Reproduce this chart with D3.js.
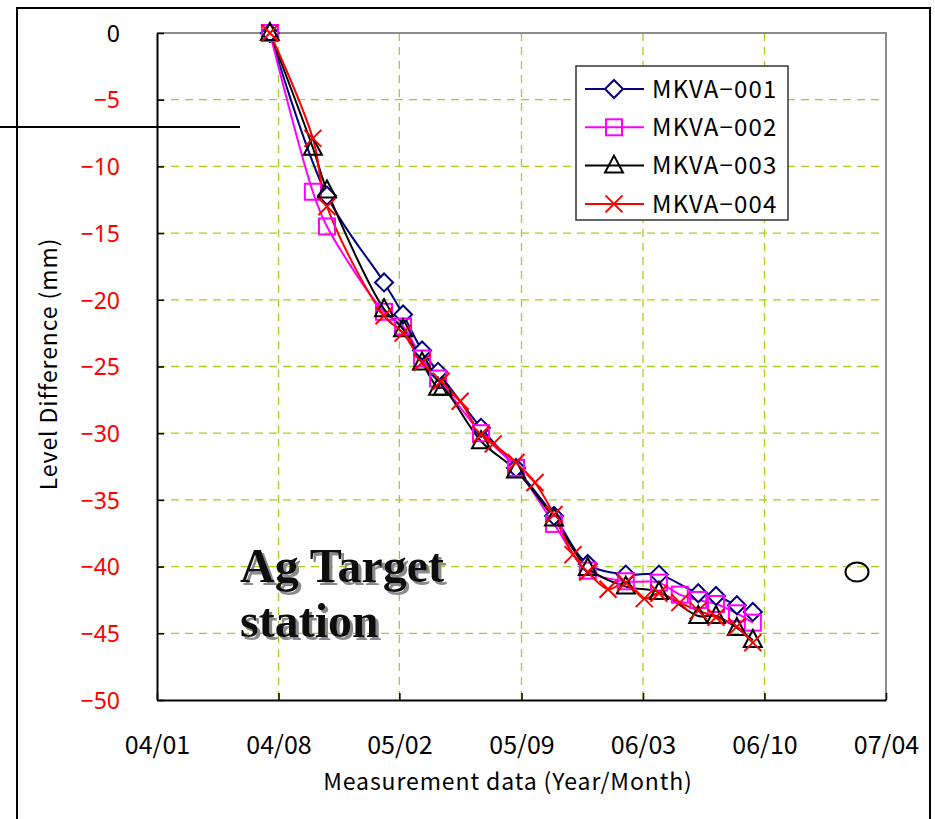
<!DOCTYPE html>
<html>
<head>
<meta charset="utf-8">
<script src="https://cdn.jsdelivr.net/npm/d3@7"></script>
<style>
  html, body { margin: 0; padding: 0; background: #fff; }
  svg { display: block; }
  .tick-y { font-family: "Noto Sans", sans-serif; font-size: 23px; }
  .tick-x { font-family: "Noto Sans CJK JP", sans-serif; font-size: 25px; }
  .axis-title { font-family: "Noto Sans CJK JP", sans-serif; font-size: 23px; letter-spacing: 0.9px; }
  .legend-text { font-family: "Noto Sans CJK JP", sans-serif; font-size: 24px; letter-spacing: 1.2px; }
  .station { font-family: "Liberation Serif", "Times New Roman", serif; font-weight: bold; font-size: 48px; }
</style>
</head>
<body>
<svg id="chart" width="935" height="819"></svg>
<script>
  // tick positions of the date axis (Excel date axis, ~198 day major unit)
  var xTickDates = ["2004-01-25", "2004-08-10", "2005-02-23", "2005-09-10", "2006-03-27", "2006-10-11", "2007-04-27"];
  var xTickLabels = ["04/01", "04/08", "05/02", "05/09", "06/03", "06/10", "07/04"];
  var yTicks = [0, -5, -10, -15, -20, -25, -30, -35, -40, -45, -50];

  var seriesNames = ["MKVA-001", "MKVA-002", "MKVA-003", "MKVA-004"];

  var dates001 = ["2004-07-27", "2004-10-28", "2005-01-29", "2005-03-01", "2005-04-01", "2005-04-27", "2005-07-06", "2005-09-01",
    "2005-11-02", "2005-12-27", "2006-02-27", "2006-04-22", "2006-06-25", "2006-07-24", "2006-08-27", "2006-09-22"];
  var values001 = [0, -12.2, -18.7, -21.1, -23.8, -25.4, -29.6, -32.6, -36.2, -39.8, -40.6, -40.6, -42.0, -42.2, -42.9, -43.4];

  var dates002 = ["2004-07-27", "2004-10-05", "2004-10-28", "2005-01-29", "2005-03-01", "2005-04-01", "2005-04-27", "2005-07-06",
    "2005-09-01", "2005-11-02", "2005-12-27", "2006-02-27", "2006-04-22", "2006-05-26", "2006-06-25", "2006-07-24", "2006-08-27", "2006-09-22"];
  var values002 = [0, -11.9, -14.5, -20.9, -22.0, -24.4, -25.9, -30.0, -32.6, -36.8, -40.3, -41.1, -41.2, -42.1, -42.5, -42.8, -43.5, -44.2];

  var dates003 = ["2004-07-27", "2004-10-05", "2004-10-28", "2005-01-29", "2005-03-01", "2005-04-01", "2005-04-27", "2005-05-05",
    "2005-07-06", "2005-09-01", "2005-11-02", "2005-12-27", "2006-02-27", "2006-04-22", "2006-06-25", "2006-07-24", "2006-08-27", "2006-09-22"];
  var values003 = [0, -8.6, -11.8, -20.7, -22.2, -24.7, -26.6, -26.6, -30.6, -32.8, -36.4, -40.1, -41.5, -41.9, -43.7, -43.7, -44.6, -45.5];

  var dates004 = ["2004-07-27", "2004-10-05", "2004-10-28", "2005-01-29", "2005-03-01", "2005-04-01", "2005-05-02", "2005-06-02",
    "2005-07-06", "2005-07-26", "2005-09-01", "2005-10-02", "2005-11-02", "2005-12-03", "2005-12-27", "2006-01-29", "2006-02-27",
    "2006-03-29", "2006-04-22", "2006-05-26", "2006-06-25", "2006-07-24", "2006-08-27", "2006-09-22"];
  var values004 = [0, -7.9, -13.0, -21.2, -22.5, -24.7, -26.1, -27.6, -30.1, -30.8, -32.2, -33.7, -36.1, -39.1, -40.4, -41.7, -41.2,
    -42.4, -42.0, -42.7, -43.3, -43.8, -44.5, -45.7];

  (function () {
    var parse = d3.timeParse("%Y-%m-%d");
    function pack(dates, values) {
      return dates.map(function (d, i) { return { date: parse(d), value: values[i] }; });
    }

    var series = [
      { name: seriesNames[0], color: "#000080", marker: "diamond", points: pack(dates001, values001) },
      { name: seriesNames[1], color: "#ff00ff", marker: "square", points: pack(dates002, values002) },
      { name: seriesNames[2], color: "#000000", marker: "triangle", points: pack(dates003, values003) },
      { name: seriesNames[3], color: "#ff0000", marker: "cross", points: pack(dates004, values004) }
    ];

    var svg = d3.select("#chart");
    var plotLeft = 157, plotRight = 886, plotTop = 33, plotBottom = 700;
    var tickDates = xTickDates.map(parse);

    var x = d3.scaleTime().domain([tickDates[0], tickDates[tickDates.length - 1]]).range([plotLeft, plotRight]);
    var y = d3.scaleLinear().domain([-50, 0]).range([plotBottom, plotTop]);

    var shadow = svg.append("defs").append("filter").attr("id", "shadow")
      .attr("x", "-10%").attr("y", "-10%").attr("width", "130%").attr("height", "130%");
    shadow.append("feDropShadow").attr("dx", 3).attr("dy", 3).attr("stdDeviation", 0.6)
      .attr("flood-color", "#8a8a8a").attr("flood-opacity", 1);

    // outer frame and stray drawing objects from the source sheet
    svg.append("rect").attr("x", 17).attr("y", 8).attr("width", 913).attr("height", 840)
      .attr("fill", "#fff").attr("stroke", "#000").attr("stroke-width", 2);
    svg.append("line").attr("x1", 0).attr("x2", 240).attr("y1", 127).attr("y2", 127)
      .attr("stroke", "#000").attr("stroke-width", 2);

    // grid
    var grid = svg.append("g");
    grid.selectAll("line.h").data(yTicks.filter(function (v) { return v !== 0 && v !== -50; }))
      .join("line").attr("class", "h")
      .attr("x1", plotLeft).attr("x2", plotRight)
      .attr("y1", function (v) { return y(v); }).attr("y2", function (v) { return y(v); })
      .attr("stroke", "#a5cf1e").attr("stroke-width", 1.3).attr("stroke-dasharray", "8,6");
    grid.selectAll("line.v").data(tickDates.slice(1, -1))
      .join("line").attr("class", "v")
      .attr("y1", plotTop).attr("y2", plotBottom)
      .attr("x1", function (d) { return x(d); }).attr("x2", function (d) { return x(d); })
      .attr("stroke", "#a5cf1e").attr("stroke-width", 1.3).attr("stroke-dasharray", "8,6");

    // plot border (top/right grey)
    svg.append("path").attr("d", "M" + plotLeft + "," + plotTop + "H" + plotRight + "V" + plotBottom)
      .attr("fill", "none").attr("stroke", "#8c8c8c").attr("stroke-width", 2);

    // axes
    var yAxis = d3.axisLeft(y).tickValues(yTicks).tickSizeInner(-7).tickSizeOuter(0).tickPadding(37)
      .tickFormat(function (v) { return v === 0 ? "0" : "\u2212" + Math.abs(v); });
    var gy = svg.append("g").attr("transform", "translate(" + plotLeft + ",0)").call(yAxis);
    gy.select(".domain").attr("stroke-width", 2);
    gy.selectAll(".tick line").attr("stroke-width", 1.5);
    gy.selectAll("text").attr("class", "tick-y").attr("dy", "0.36em")
      .attr("fill", function (v) { return v === 0 ? "#000" : "#ff0000"; });

    var xAxis = d3.axisBottom(x).tickValues(tickDates).tickSizeInner(-7).tickSizeOuter(0).tickPadding(36)
      .tickFormat(function (d, i) { return xTickLabels[i]; });
    var gx = svg.append("g").attr("transform", "translate(0," + plotBottom + ")").call(xAxis);
    gx.select(".domain").attr("stroke-width", 2);
    gx.selectAll(".tick line").attr("stroke-width", 1.5);
    gx.selectAll("text").attr("class", "tick-x").attr("fill", "#000");

    svg.append("text").attr("class", "axis-title").attr("x", 508).attr("y", 790).attr("text-anchor", "middle")
      .text("Measurement data (Year/Month)");
    svg.append("text").attr("class", "axis-title").attr("transform", "translate(57,364) rotate(-90)")
      .attr("text-anchor", "middle").text("Level Difference (mm)");

    // lines
    var line = d3.line()
      .x(function (p) { return x(p.date); })
      .y(function (p) { return y(p.value); })
      .curve(d3.curveCatmullRom.alpha(0.5));

    function drawMarker(g, type, color) {
      if (type === "diamond") {
        g.append("path").attr("d", "M0,-9L9,0L0,9L-9,0Z").attr("fill", "#fff").attr("stroke", color).attr("stroke-width", 2);
      } else if (type === "square") {
        g.append("rect").attr("x", -8).attr("y", -8).attr("width", 16).attr("height", 16)
          .attr("fill", "none").attr("stroke", color).attr("stroke-width", 2);
      } else if (type === "triangle") {
        g.append("path").attr("d", "M0,-10L9,7L-9,7Z").attr("fill", "none").attr("stroke", color).attr("stroke-width", 2);
      } else {
        g.append("path").attr("d", "M-8.5,-8.5L8.5,8.5M-8.5,8.5L8.5,-8.5").attr("stroke", color).attr("stroke-width", 2);
      }
    }

    var plot = svg.append("g");
    series.forEach(function (s) {
      plot.append("path").datum(s.points).attr("d", line)
        .attr("fill", "none").attr("stroke", s.color).attr("stroke-width", 2);
    });
    series.forEach(function (s) {
      plot.selectAll(null).data(s.points).join("g")
        .attr("transform", function (p) { return "translate(" + x(p.date) + "," + y(p.value) + ")"; })
        .each(function () { drawMarker(d3.select(this), s.marker, s.color); });
    });

    // legend
    var legend = svg.append("g");
    legend.append("rect").attr("x", 576).attr("y", 66).attr("width", 212).attr("height", 154)
      .attr("fill", "#fff").attr("stroke", "#333").attr("stroke-width", 1.5);
    series.forEach(function (s, i) {
      var ly = 89 + i * 38.3;
      legend.append("line").attr("x1", 585).attr("x2", 644).attr("y1", ly).attr("y2", ly)
        .attr("stroke", s.color).attr("stroke-width", 2);
      var mg = legend.append("g").attr("transform", "translate(614," + ly + ")");
      drawMarker(mg, s.marker, s.color);
      legend.append("text").attr("class", "legend-text").attr("x", 652).attr("y", ly).attr("dy", "0.36em")
        .text(s.name.replace("-", "\u2212"));
    });

    // station label with grey drop shadow
    var label = svg.append("text").attr("class", "station").attr("fill", "#111").attr("filter", "url(#shadow)");
    label.append("tspan").attr("x", 240).attr("y", 582).text("Ag Target");
    label.append("tspan").attr("x", 240).attr("y", 637).text("station");

    svg.append("ellipse").attr("cx", 857).attr("cy", 572).attr("rx", 11.5).attr("ry", 9.5)
      .attr("fill", "none").attr("stroke", "#000").attr("stroke-width", 2);
  })();
</script>
</body>
</html>
